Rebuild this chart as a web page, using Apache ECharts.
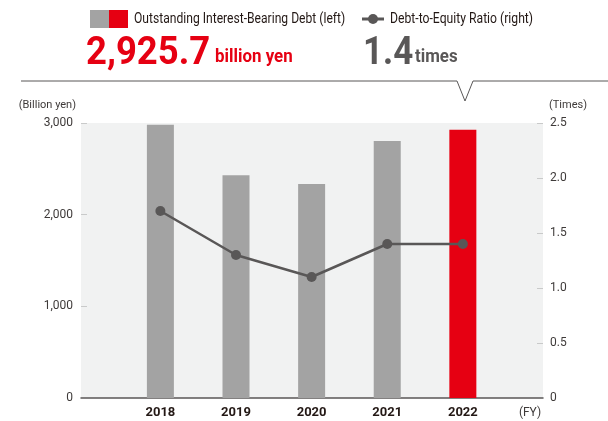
<!DOCTYPE html>
<html>
<head>
<meta charset="UTF-8">
<title>Interest-Bearing Debt</title>
<script src="https://cdn.jsdelivr.net/npm/echarts@6/dist/echarts.min.js"></script>
<style type="text/css">
body  { margin: 0; padding: 0; background: #fff; }
#chart { width: 608px; height: 421px; }
</style>
</head>
<body>
<div id="chart"></div>
<script type="text/javascript">
// data
var years = [2018, 2019, 2020, 2021, 2022];
var debt = [2980, 2430, 2335, 2805, 2925.7];      // billion yen (left)
var deRatio = [1.7, 1.3, 1.1, 1.4, 1.4];          // times (right)
var leftTicks = [0, 1000, 2000, 3000];
var rightTicks = [0, 0.5, 1.0, 1.5, 2.0, 2.5];

var GRAY = '#a3a3a3', RED = '#e60012', DARK = '#595757';
var FONT = 'Roboto, sans-serif';

var barData = years.map(function (y, i) {
    return {
        value: [y, debt[i]],
        itemStyle: { color: i === years.length - 1 ? RED : GRAY }
    };
});
var lineData = years.map(function (y, i) { return [y, deRatio[i]]; });

// no tick mark at 0, the x axis line covers it
function noZero(list) { return list.filter(function (v) { return v !== 0; }); }

var chart = echarts.init(document.getElementById('chart'));
chart.setOption({
    animation: false,
    grid: {
        left: 81, right: 65, top: 123, bottom: 23,
        show: true, backgroundColor: '#f1f2f2', borderWidth: 0,
        containLabel: false, outerBoundsMode: 'none'
    },
    xAxis: {
        type: 'value',
        min: 2016.95, max: 2023.06,
        splitLine: { show: false },
        axisLine: { show: true, onZero: false, lineStyle: { color: DARK, width: 1.5 } },
        axisTick: { show: false },
        axisLabel: {
            customValues: years,
            formatter: function (v) { return String(v); },
            margin: 8, color: '#231815', fontSize: 13, fontWeight: 'bold', fontFamily: FONT
        }
    },
    yAxis: [{
        type: 'value', min: 0, max: 3000, interval: 1000,
        name: '(Billion yen)', nameLocation: 'end', nameGap: 12,
        nameTextStyle: { align: 'right', padding: [0, 5, 0, 0], color: '#3e3a39', fontSize: 11, fontFamily: FONT },
        splitLine: { show: false },
        axisLine: { show: false },
        axisTick: { show: true, inside: true, length: 6, customValues: noZero(leftTicks), lineStyle: { color: '#c9caca' } },
        axisLabel: {
            margin: 8, color: '#3e3a39', fontSize: 12, fontFamily: FONT,
            customValues: leftTicks,
            formatter: function (v) { return v.toLocaleString('en-US'); }
        }
    }, {
        type: 'value', min: 0, max: 2.5, interval: 0.5, position: 'right',
        name: '(Times)', nameLocation: 'end', nameGap: 12,
        nameTextStyle: { align: 'left', padding: [0, 0, 0, 6], color: '#3e3a39', fontSize: 11, fontFamily: FONT },
        splitLine: { show: false },
        axisLine: { show: false },
        axisTick: { show: true, inside: true, length: 6, customValues: noZero(rightTicks), lineStyle: { color: '#c9caca' } },
        axisLabel: {
            margin: 7, color: '#3e3a39', fontSize: 12, fontFamily: FONT,
            customValues: rightTicks,
            formatter: function (v) { return v === 0 ? '0' : v.toFixed(1); }
        }
    }],
    series: [{
        name: 'Outstanding Interest-Bearing Debt (left)',
        type: 'bar', yAxisIndex: 0, barWidth: 27,
        data: barData
    }, {
        name: 'Debt-to-Equity Ratio (right)',
        type: 'line', yAxisIndex: 1,
        symbol: 'circle', symbolSize: 10,
        lineStyle: { color: DARK, width: 2.5 },
        itemStyle: { color: DARK },
        data: lineData
    }],
    graphic: [
        // legend (condensed look via scaleX)
        { type: 'rect', shape: { x: 90, y: 10, width: 19, height: 18 }, style: { fill: GRAY } },
        { type: 'rect', shape: { x: 109, y: 10, width: 19, height: 18 }, style: { fill: RED } },
        { type: 'text', x: 134, y: 19, scaleX: 0.865, style: { text: 'Outstanding Interest-Bearing Debt (left)', fill: '#231815',
            font: '14px ' + FONT, verticalAlign: 'middle' } },
        { type: 'line', shape: { x1: 362, y1: 19, x2: 384, y2: 19 }, style: { stroke: DARK, lineWidth: 3 } },
        { type: 'circle', shape: { cx: 373, cy: 19, r: 5 }, style: { fill: DARK } },
        { type: 'text', x: 390, y: 19, scaleX: 0.87, style: { text: 'Debt-to-Equity Ratio (right)', fill: '#231815',
            font: '14px ' + FONT, verticalAlign: 'middle' } },
        // headline figures
        { type: 'text', x: 86, y: 54, scaleX: 0.96, style: { text: '2,925.7', fill: RED,
            font: 'bold 38px ' + FONT, verticalAlign: 'middle' } },
        { type: 'text', x: 215, y: 57, scaleX: 0.89, style: { text: 'billion yen', fill: RED,
            font: 'bold 19px ' + FONT, verticalAlign: 'middle' } },
        { type: 'text', x: 363, y: 54, scaleX: 0.92, style: { text: '1.4', fill: DARK,
            font: 'bold 38px ' + FONT, verticalAlign: 'middle' } },
        { type: 'text', x: 415, y: 57, scaleX: 0.89, style: { text: 'times', fill: DARK,
            font: 'bold 19px ' + FONT, verticalAlign: 'middle' } },
        // divider with notch over 2022
        { type: 'polyline', shape: { points: [[21, 81], [457, 81], [465, 101], [473, 81], [608, 81]] },
            style: { stroke: DARK, lineWidth: 1, fill: null } },
        { type: 'text', x: 530, y: 413, style: { text: '(FY)', fill: '#3e3a39',
            font: '12px ' + FONT, align: 'center', verticalAlign: 'middle' } }
    ]
});
</script>
</body>
</html>
